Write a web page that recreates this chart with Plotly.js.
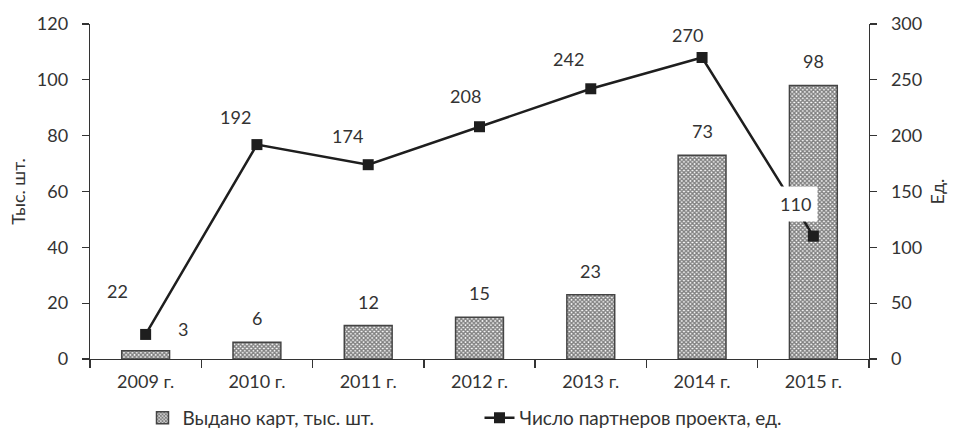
<!DOCTYPE html>
<html>
<head>
<meta charset="utf-8">
<script src="https://cdn.plot.ly/plotly-3.0.1.min.js"></script>
<style>html,body{margin:0;padding:0;background:#fff;}#chart{width:953px;height:433px;}</style>
</head>
<body>
<div id="chart"></div>
<script>
const years = ["2009 г.", "2010 г.", "2011 г.", "2012 г.", "2013 г.", "2014 г.", "2015 г."];
const cards = [3, 6, 12, 15, 23, 73, 98];
const partners = [22, 192, 174, 208, 242, 270, 110];
const cardsName = "Выдано карт, тыс. шт.";
const partnersName = "Число партнеров проекта, ед.";
const leftTitle = "Тыс. шт.";
const rightTitle = "Ед.";

const FONT = "Lato, 'Open Sans', sans-serif";
const TXT = "#333";
const FS = 18;

// label placement offsets (px) for line labels
const lineDx = [-28, -21, -21, -14, -22, -15, -18];
const lineDy = [43, 28, 29, 31, 30, 23, 32];
// bar label offsets
const barDx = [37, 0, 0, 0, 0, 0, 0];
const barDy = [22, 24, 24, 24, 24, 24, 24];

const annotations = [];
years.forEach((c, i) => {
  annotations.push({
    x: c, y: cards[i], xref: "x", yref: "y", text: String(cards[i]),
    showarrow: false, xshift: barDx[i], yshift: barDy[i],
    font: {family: FONT, size: FS, color: TXT}
  });
  const isLast = i === years.length - 1;
  annotations.push({
    x: c, y: partners[i], xref: "x", yref: "y2", text: String(partners[i]),
    showarrow: false, xshift: lineDx[i], yshift: lineDy[i],
    font: {family: FONT, size: FS, color: TXT},
    bgcolor: isLast ? "#ffffff" : "rgba(0,0,0,0)",
    borderpad: isLast ? 6 : 1
  });
});

const traces = [
  {
    type: "bar", x: years, y: cards, name: cardsName, yaxis: "y",
    width: 0.43,
    marker: {
      color: "#ffffff",
      line: {color: "#444", width: 1.5},
      pattern: {shape: "x", size: 3, solidity: 0.7, fgcolor: "#000", bgcolor: "#ffffff", fillmode: "overlay"}
    },
    hoverinfo: "skip"
  },
  {
    type: "scatter", mode: "lines+markers", x: years, y: partners, name: partnersName, yaxis: "y2",
    line: {color: "#1e1e1e", width: 2.5},
    marker: {symbol: "square", size: 11, color: "#1e1e1e"},
    cliponaxis: false,
    hoverinfo: "skip"
  }
];

const axisCommon = {
  showline: true, linecolor: "#333", linewidth: 1.3,
  ticks: "outside", ticklen: 7, tickcolor: "#333", tickwidth: 1.3,
  showgrid: false, zeroline: false,
  tickfont: {family: FONT, size: FS, color: TXT}
};

const layout = {
  width: 953, height: 433,
  margin: {l: 90, r: 84, t: 24, b: 74, autoexpand: false},
  paper_bgcolor: "#fff", plot_bgcolor: "#fff",
  showlegend: true,
  legend: {
    orientation: "h", x: 0.5, xanchor: "center", xref: "paper",
    yref: "container", y: 0.035, yanchor: "middle",
    entrywidth: 292, entrywidthmode: "pixels",
    font: {family: FONT, size: 19, color: TXT}, traceorder: "normal"
  },
  xaxis: Object.assign({}, axisCommon, {type: "category", tickson: "boundaries", ticklen: 8, automargin: false, ticklabelstandoff: 6}),
  yaxis: Object.assign({}, axisCommon, {
    range: [0, 120], dtick: 20, automargin: false, ticklabelstandoff: 10,
    title: {text: leftTitle, font: {family: FONT, size: FS, color: TXT}, standoff: 6}
  }),
  yaxis2: Object.assign({}, axisCommon, {
    overlaying: "y", side: "right", range: [0, 300], dtick: 50, automargin: false, ticklabelstandoff: 10,
    title: {text: rightTitle, font: {family: FONT, size: FS, color: TXT}, standoff: 10}
  }),
  annotations: annotations
};

Plotly.newPlot("chart", traces, layout, {displayModeBar: false, staticPlot: true});
</script>
</body>
</html>
